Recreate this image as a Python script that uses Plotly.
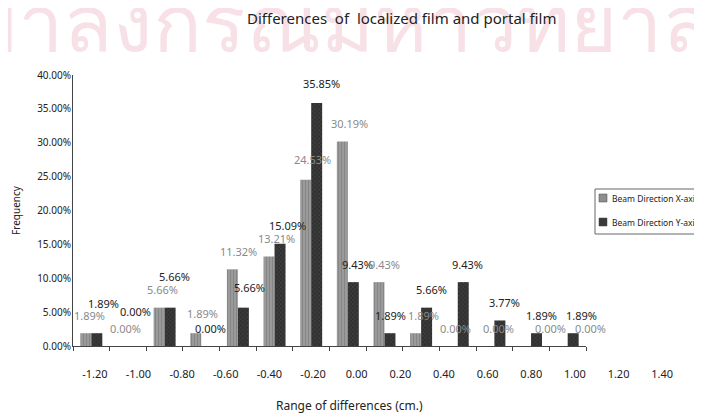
import plotly.graph_objects as go

bins = ["-1.20", "-1.00", "-0.80", "-0.60", "-0.40", "-0.20", "0.00",
        "0.20", "0.40", "0.60", "0.80", "1.00", "1.20", "1.40"]
beam_x = [1.89, 0.00, 5.66, 1.89, 11.32, 13.21, 24.53, 30.19, 9.43, 1.89, 0.00, 0.00, 0.00, 0.00]
beam_y = [1.89, 0.00, 5.66, 0.00, 5.66, 15.09, 35.85, 9.43, 1.89, 5.66, 9.43, 3.77, 1.89, 1.89]
series_names = ["Beam Direction X-axis", "Beam Direction Y-axis"]
series_colors = ["#8e8e8e", "#3a3a3a"]

# label nudges (pixels) reproducing the scattered label placement of the scan
gx_nudge = [4, 4, 4, 7, 7, 8, 7, 8, 6, 8, 4, 10, 25, 29]
gy_nudge = [0, 0, 0, 2, 0, 0, 2, 0, 0, 0, 0, 0, 0, 0]
bx_nudge = [6, 2, 4, 3, 6, 7, 4, 4, 0, 4, 4, 4, 4, 8]
by_nudge = [12, 17, 13, 0, 2, 0, 2, 0, 0, 0, 0, 0, 0, 0]

idx = list(range(len(bins)))

FONT = "Noto Sans"
OFF = 8  # page body margin
W, H = 702 - OFF, 413 - OFF
L = 73 - OFF
T = 75 - OFF
PB = 346 - OFF          # plot bottom (figure px)
B = H - PB
R = W - (684 - OFF)     # label axis right end
pw = W - L - R
ph = H - T - B
dom_end = (586 - OFF - L) / pw


def px_x(xr):
    return (xr - OFF - L) / pw


def px_y(yr):
    return (PB - (yr - OFF)) / ph


fig = go.Figure()
fig.add_trace(go.Bar(
    x=idx, y=beam_x, name=series_names[0],
    marker=dict(color=series_colors[0], line=dict(width=0),
                pattern=dict(shape="|", fgcolor="#707070", bgcolor="#9c9c9c", size=3, solidity=0.4)),
    xaxis="x", yaxis="y", showlegend=False))
fig.add_trace(go.Bar(
    x=idx, y=beam_y, name=series_names[1],
    marker=dict(color=series_colors[1], line=dict(width=0),
                pattern=dict(shape="x", fgcolor="#666666", bgcolor="#303030", size=3, solidity=0.3)),
    xaxis="x", yaxis="y", showlegend=False))
# invisible trace to carry the (offset) category labels axis
fig.add_trace(go.Scatter(x=idx, y=[0] * len(bins), xaxis="x2", yaxis="y",
                         mode="markers", marker=dict(opacity=0), showlegend=False,
                         hoverinfo="skip"))

annotations = []
# watermark
annotations.append(dict(x=px_x(-86), y=px_y(-37), xref="paper", yref="paper",
                        xanchor="left", yanchor="top", showarrow=False,
                        text="จุฬาลงกรณ์มหาวิทยาลัย",
                        font=dict(family=FONT, size=81, color="#f8e1e6")))

for i in idx:
    annotations.append(dict(x=i, y=beam_x[i], xref="x", yref="y", text=f"{beam_x[i]:.2f}%",
                            showarrow=False, xshift=-6 + gx_nudge[i], yshift=18 + gy_nudge[i],
                            font=dict(family=FONT, size=11, color="#8a8a8a")))
    annotations.append(dict(x=i, y=beam_y[i], xref="x", yref="y", text=f"{beam_y[i]:.2f}%",
                            showarrow=False, xshift=6 + bx_nudge[i], yshift=18 + by_nudge[i],
                            font=dict(family=FONT, size=11, color="#222222")))

# title
annotations.append(dict(x=px_x(402), y=px_y(18), xref="paper", yref="paper",
                        xanchor="center", yanchor="middle", showarrow=False,
                        text="Differences  of  localized film and portal film",
                        font=dict(family=FONT, size=15, color="#222222")))
# x axis title
annotations.append(dict(x=px_x(349), y=px_y(405), xref="paper", yref="paper",
                        xanchor="center", yanchor="middle", showarrow=False,
                        text="Range of differences (cm.)",
                        font=dict(family=FONT, size=12, color="#222222")))

# legend (drawn as box, swatches and labels built from the series lists)
shapes = [dict(type="rect", xref="paper", yref="paper",
               x0=px_x(595), x1=px_x(740), y0=px_y(234), y1=px_y(189),
               line=dict(color="#666666", width=1), fillcolor="white", layer="above")]
leg_rows = [198, 222]
for k, name in enumerate(series_names):
    yc = leg_rows[k]
    shapes.append(dict(type="rect", xref="paper", yref="paper",
                       x0=px_x(599), x1=px_x(607), y0=px_y(yc + 4), y1=px_y(yc - 4),
                       line=dict(color="#444444", width=0.5), fillcolor=series_colors[k],
                       layer="above"))
    annotations.append(dict(x=px_x(610), y=px_y(yc), xref="paper", yref="paper",
                            xanchor="left", yanchor="middle", showarrow=False, text=name,
                            font=dict(family=FONT, size=8.5, color="#222222")))

fig.update_layout(
    width=W, height=H,
    margin=dict(l=L, r=R, t=T, b=B, autoexpand=False),
    paper_bgcolor="white", plot_bgcolor="rgba(0,0,0,0)",
    barmode="group", bargap=0.4, bargroupgap=0,
    font=dict(family=FONT, size=11, color="#222222"),
    xaxis=dict(domain=[0, dom_end], showticklabels=False, ticks="outside",
               tickmode="array", tickvals=[i - 0.5 for i in idx] + [len(bins) - 0.5], ticklen=4,
               tickcolor="#444", showline=True, linecolor="#444", linewidth=1,
               showgrid=False, zeroline=False, range=[-0.5, len(bins) - 0.5]),
    xaxis2=dict(domain=[0, 1], anchor="y", range=[-0.5, len(bins) - 0.5],
                tickmode="array", tickvals=idx, ticktext=bins, showline=False, ticks="",
                showgrid=False, zeroline=False, ticklabelstandoff=20,
                tickfont=dict(family=FONT, size=11, color="#222222")),
    yaxis=dict(range=[0, 40], dtick=5, tickformat=".2f", ticksuffix="%",
               showline=True, linecolor="#444", linewidth=1, ticks="", showgrid=False,
               zeroline=False, tickfont=dict(family=FONT, size=10, color="#222222"),
               ticklabelstandoff=-1,
               title=dict(text="Frequency", font=dict(family=FONT, size=10, color="#222222"),
                          standoff=14)),
    shapes=shapes,
    annotations=annotations,
    showlegend=False,
)

fig.write_html("out.html")
